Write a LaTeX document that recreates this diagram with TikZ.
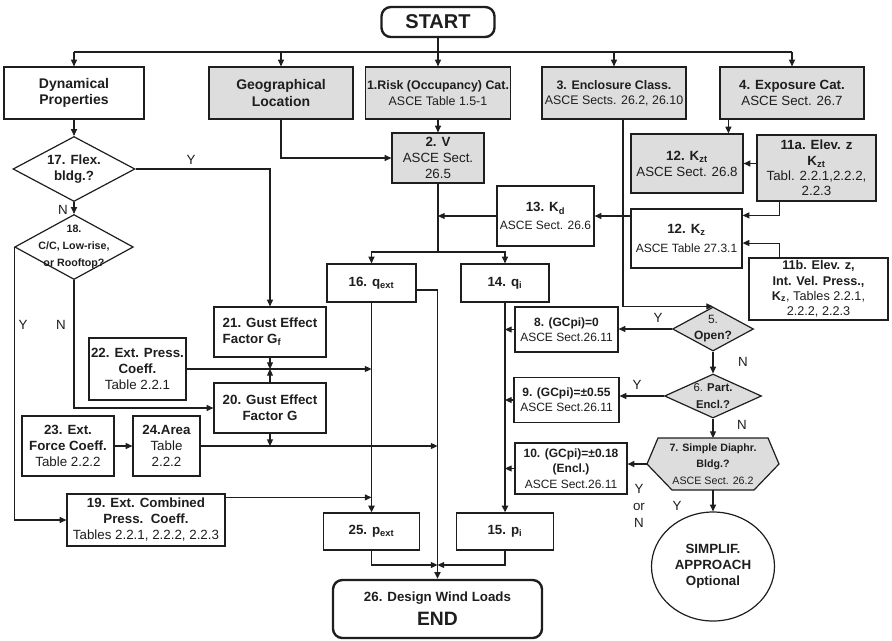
\documentclass[tikz,border=0pt]{standalone}
\usepackage{fontspec}
\setmainfont{Liberation Sans}
\usetikzlibrary{shapes.geometric, arrows.meta}

\definecolor{boxgray}{RGB}{221,221,221}
\definecolor{ink}{RGB}{30,30,30}

\begin{document}
\begin{tikzpicture}[
		x=0.75pt, y=-0.75pt,
		every node/.style = {text=ink},
		box/.style = {rectangle, draw=ink, line width=0.9pt, fill=white, align=center, inner sep=1pt, font=\fontsize{10}{12}\selectfont},
		grey/.style = {fill=boxgray},
		small/.style = {font=\fontsize{9}{11.5}\selectfont},
		term/.style = {box, rounded corners=7pt, line width=1.8pt, font=\fontsize{15}{17}\selectfont\bfseries},
		decision/.style = {diamond, draw=ink, line width=0.9pt, fill=boxgray, align=center, inner sep=0pt, font=\fontsize{10}{12}\selectfont\bfseries},
		line/.style = {draw=ink, line width=0.8pt},
		arrow/.style = {line, -{Triangle[length=5pt, width=4.5pt]}},
		heavy/.style = {arrow, line width=1.4pt},
		yn/.style = {font=\fontsize{10}{12}\selectfont, inner sep=1pt}
		]
		\useasboundingbox (0,0) rectangle (892,640);
		
		% Top row
		\node[term, minimum width=84.75pt, minimum height=22.5pt] (start) at (438,22) {START};
		\node[box, font=\fontsize{10.5}{12.5}\selectfont\bfseries, minimum width=105pt, minimum height=39pt] (dyn) at (74,93) {Dynamical\\Properties};
		\node[box, grey, font=\fontsize{10.5}{12.5}\selectfont\bfseries, minimum width=108pt, minimum height=39pt] (geo) at (281,93) {Geographical\\Location};
		\node[box, grey, font=\fontsize{9.3}{11.5}\selectfont, minimum width=108pt, minimum height=39pt] (risk) at (438,93) {\textbf{1.Risk (Occupancy) Cat.}\\ASCE Table 1.5-1};
		\node[box, grey, font=\fontsize{9.3}{11.5}\selectfont, minimum width=108pt, minimum height=39pt] (encl) at (614,93) {\textbf{3. Enclosure Class.}\\ASCE Sects. 26.2, 26.10};
		\node[box, grey, minimum width=108pt, minimum height=39pt] (expo) at (792,93) {\textbf{4. Exposure Cat.}\\ASCE Sect. 26.7};
		
		% Velocity and coefficients
		\node[box, grey, minimum width=69pt, minimum height=37.5pt] (vel) at (438,158) {\textbf{2. V}\\ASCE Sect.\\26.5};
		\node[box, grey, minimum width=84pt, minimum height=44.25pt] (kzt) at (687,163.5) {\textbf{12. K\textsubscript{zt}}\\ASCE Sect. 26.8};
		\node[box, grey, font=\fontsize{10}{11.5}\selectfont, minimum width=89.25pt, minimum height=49.5pt] (e11a) at (816.5,168) {\textbf{11a. Elev. z}\\\textbf{K\textsubscript{zt}}\\Tabl. 2.2.1,2.2.2,\\2.2.3};
		\node[box, minimum width=72.75pt, minimum height=45pt] (kd) at (545.5,216) {\textbf{13. K\textsubscript{d}}\\[1pt]{\fontsize{9}{11}\selectfont ASCE Sect. 26.6}};
		\node[box, minimum width=83.25pt, minimum height=44.25pt] (kz) at (686.5,238.5) {\textbf{12. K\textsubscript{z}}\\[2pt]{\fontsize{9}{11}\selectfont ASCE Table 27.3.1}};
		\node[box, font=\fontsize{9.5}{11.5}\selectfont, minimum width=104.25pt, minimum height=46.5pt] (e11b) at (818.5,289) {\textbf{11b. Elev. z,}\\\textbf{Int. Vel. Press.,}\\\textbf{K\textsubscript{z}}, Tables 2.2.1,\\2.2.2, 2.2.3};
		
		% Pressures
		\node[box, minimum width=66.75pt, minimum height=28.5pt] (q16) at (371.5,283) {\textbf{16. q\textsubscript{ext}}};
		\node[box, minimum width=66pt, minimum height=28.5pt] (q14) at (505,283) {\textbf{14. q\textsubscript{i}}};
		\node[box, minimum width=72pt, minimum height=27.75pt] (p25) at (371.5,531.5) {\textbf{25. p\textsubscript{ext}}};
		\node[box, minimum width=72.75pt, minimum height=27.75pt] (p15) at (505,531.5) {\textbf{15. p\textsubscript{i}}};
		
		% Internal pressure
		\node[box, small, minimum width=77.25pt, minimum height=33.75pt] (c8) at (566.5,329.5) {\textbf{8. (GCpi)=0}\\ASCE Sect.26.11};
		\node[box, small, minimum width=78.75pt, minimum height=33.75pt] (c9) at (566.5,400) {\textbf{9. (GCpi)=±0.55}\\ASCE Sect.26.11};
		\node[box, small, minimum width=84pt, minimum height=38.25pt] (c10) at (571,468.5) {\textbf{10. (GCpi)=±0.18}\\\textbf{(Encl.)}\\ASCE Sect.26.11};
		\node[decision, font=\fontsize{9}{12}\selectfont\bfseries, shape aspect=1.84, inner sep=-2pt, minimum width=60.75pt, minimum height=33pt] (open) at (713,329) {\textmd{5.}\\Open?};
		\node[decision, font=\fontsize{8.5}{13}\selectfont\bfseries, shape aspect=2.2, inner sep=-1pt, minimum width=72.75pt, minimum height=33pt] (part) at (713,396) {\textmd{6.} Part.\\Encl.?};
		\draw[line, line width=0.9pt, fill=boxgray] (658,438) -- (768,438) -- (779,464) -- (754,490) -- (672,490) -- (647,464) -- cycle;
		\node[align=center, inner sep=0pt, font=\fontsize{8}{12.4}\selectfont] (simp) at (713,464) {\textbf{7. Simple Diaphr.}\\\textbf{Bldg.?}\\ASCE Sect. 26.2};
		\coordinate (simpN) at (713,438);
		\coordinate (simpW) at (647,464);
		\coordinate (simpS) at (713,490);
		\node[ellipse, draw=ink, line width=0.9pt, align=center, font=\fontsize{10}{12}\selectfont\bfseries, minimum width=92.25pt, minimum height=81.75pt] (appr) at (713,566.5) {SIMPLIF.\\APPROACH\\Optional};
		
		% External pressure
		\node[decision, fill=white, shape aspect=1.88, minimum width=91.5pt, minimum height=48.75pt] (flex) at (74,169) {17. Flex.\\bldg.?};
		\node[decision, fill=white, font=\fontsize{8}{12.5}\selectfont\bfseries, shape aspect=1.83, inner sep=-5pt, minimum width=89pt, minimum height=48.75pt] (c18) at (74,247) {18.\\C/C, Low-rise,\\or Rooftop?};
		\node[box, font=\fontsize{10}{12}\selectfont\bfseries, align=left, minimum width=84pt, minimum height=37.5pt] (gf) at (270,332) {21. Gust Effect\\Factor G\textsubscript{f}};
		\node[box, font=\fontsize{10}{12}\selectfont\bfseries, minimum width=84pt, minimum height=37.5pt] (g20) at (270,408) {20. Gust Effect\\Factor G};
		\node[box, minimum width=72.75pt, minimum height=46.5pt] (p22) at (137.5,369) {\textbf{22. Ext. Press.}\\\textbf{Coeff.}\\Table 2.2.1};
		\node[box, minimum width=69pt, minimum height=45pt] (f23) at (68,446) {\textbf{23. Ext.}\\\textbf{Force Coeff.}\\Table 2.2.2};
		\node[box, minimum width=50.25pt, minimum height=45pt] (a24) at (166.5,446) {\textbf{24.Area}\\Table\\2.2.2};
		\node[box, minimum width=118.5pt, minimum height=39pt] (e19) at (146,520) {\textbf{19. Ext. Combined}\\\textbf{Press.\ \ Coeff.}\\Tables 2.2.1, 2.2.2, 2.2.3};
		
		% End
		\node[term, font=\fontsize{14.5}{18}\selectfont\bfseries, minimum width=156.75pt, minimum height=43.5pt] (end) at (437.5,609) {{\fontsize{10}{12}\selectfont 26. Design Wind Loads}\\END};
		
		% Labels
		\node[yn] (flexY) at (191,160) {Y};
		\node[yn] (flexN) at (63,210) {N};
		\node[yn] (c18Y) at (23,325) {Y};
		\node[yn] (c18N) at (61,325) {N};
		\node[yn] (openY) at (658,318) {Y};
		\node[yn] (openN) at (743,362) {N};
		\node[yn] (partY) at (637,385) {Y};
		\node[yn] (partN) at (742,425) {N};
		\node[yn, align=center, font=\fontsize{10}{12.5}\selectfont] (simpYN) at (639,506) {Y\\or\\N};
		\node[yn] (simpY) at (677,506) {Y};
		
		% Arrows
		\coordinate (bus) at (0,52);
		\draw[line] (dyn.north |- bus) -- (expo.north |- bus);
		\draw[arrow] (start) -- (risk);
		\draw[arrow] (dyn.north |- bus) -- (dyn.north);
		\draw[arrow] (geo.north |- bus) -- (geo.north);
		\draw[arrow] (encl.north |- bus) -- (encl.north);
		\draw[arrow] (expo.north |- bus) -- (expo.north);
		\draw[arrow] (risk) -- (vel);
		\draw[arrow] (geo) |- (vel);
		
		\draw[arrow] (dyn) -- (flex);
		\draw[arrow] (flex) -- (c18);
		\draw[arrow] (flex.east) -| (gf.north);
		\draw[arrow] (c18.west) |- (e19.west);
		\draw[arrow] (c18.south) |- (g20.west);
		\draw[arrow] (gf) -- (gf.south |- p22.east);
		\draw[arrow] (g20) -- (g20.north |- p22.east);
		\draw[arrow] (p22.east) -- (p22.east -| q16.south);
		\draw[arrow] (g20.south) -- (g20.south |- a24.east);
		\draw[arrow] (f23) -- (a24);
		\draw[arrow] (a24.east) -- (a24.east -| end.north);
		\draw[arrow] ([yshift=-3pt]e19.north east) -- ([yshift=-3pt]e19.north east -| q16.south);
		
		\coordinate (vsplit) at (vel.south |- 0,252);
		\draw[line] (vel) -- (vsplit);
		\draw[arrow] (vsplit) -| (q16);
		\draw[arrow] (vsplit) -| (q14);
		\draw[arrow] (kd) -- (kd.west -| vel.south);
		\draw[arrow] (kz.west |- kd.east) -- (kd.east);
		\draw[arrow] ([xshift=6.75pt]expo.south west) -- ([xshift=6.75pt]expo.south west |- kzt.north);
		\draw[arrow] (e11a.west |- kzt.east) -- (kzt.east);
		\draw[arrow] ([xshift=17.25pt]e11a.south west) |- ([yshift=-5.25pt]kz.north east);
		\draw[arrow] ([xshift=23.25pt]e11b.north west) |- ([yshift=-3.4pt]kz.east);
		
		\draw[arrow] ([xshift=6.75pt]encl.south) |- (open.north);
		\draw[arrow] (open.west) -- (open.west -| c8.east);
		\draw[arrow] (open) -- (part);
		\draw[arrow] (part.west) -- (part.west -| c9.east);
		\draw[arrow] (part) -- (simpN);
		\draw[arrow] (simpW) -- (simpW -| c10.east);
		\draw[arrow] (simpS) -- (appr);
		\draw[arrow] (c8.west) -- (c8.west -| q14.south);
		\draw[arrow] (c9.west) -- (c9.west -| q14.south);
		\draw[arrow] (c10.west) -- (c10.west -| q14.south);
		
		\draw[heavy] (q16) -- (p25);
		\draw[heavy] ([yshift=-5pt]q16.east) -| (end.north);
		\draw[heavy] (q14) -- (p15);
		\coordinate (merge) at (end.north |- 0,565);
		\draw[arrow] (p25) |- (merge);
		\draw[arrow] (p15) |- (merge);
		
	\end{tikzpicture}
\end{document}
